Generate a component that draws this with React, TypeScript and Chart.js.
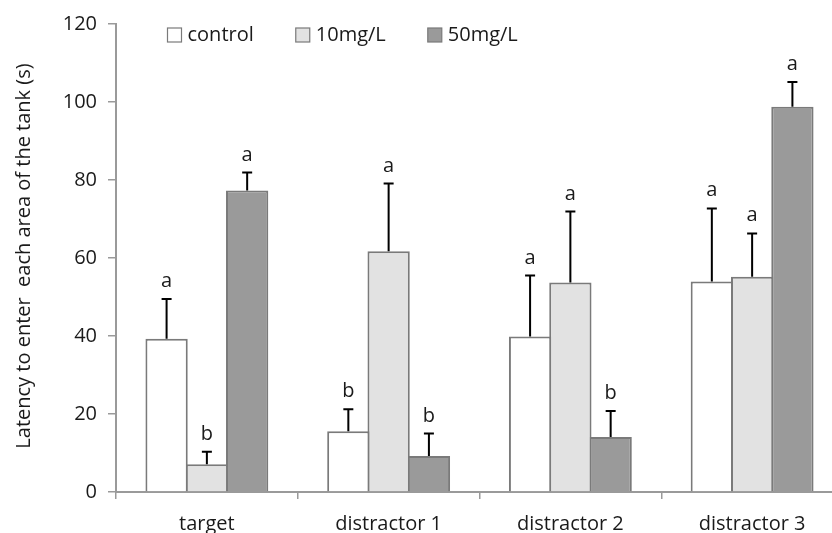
import React, { useEffect, useRef } from "react";
import { Chart, registerables } from "chart.js";

Chart.register(...registerables);

// ---- data ----
const categories = ["target", "distractor 1", "distractor 2", "distractor 3"];
const seriesNames = ["control", "10mg/L", "50mg/L"];
const controlMeans = [39.3, 15.6, 39.9, 54.0];
const controlErr = [10.2, 5.6, 15.6, 18.7];
const mg10Means = [7.1, 61.7, 53.7, 55.2];
const mg10Err = [3.2, 17.4, 18.2, 11.1];
const mg50Means = [77.3, 9.2, 14.1, 98.8];
const mg50Err = [4.6, 5.8, 6.7, 6.3];
const controlLetters = ["a", "b", "a", "a"];
const mg10Letters = ["b", "a", "a", "a"];
const mg50Letters = ["a", "b", "b", "a"];
const yMin = 0;
const yMax = 120;
const yStep = 20;
const yTitle = "Latency to enter  each area of the tank (s)";

const FONT = "'Open Sans', 'DejaVu Sans', sans-serif";
const TEXT = "#1a1a1a";
const AXIS = "#9a9a9a";
const BORDER = "#7a7a7a";
const fills = ["#ffffff", "#e2e2e2", "#9a9a9a"];

const errors = [controlErr, mg10Err, mg50Err];
const letters = [controlLetters, mg10Letters, mg50Letters];

const errorBarPlugin = {
  id: "errorBars",
  afterDatasetsDraw(chart: any) {
    const ctx = chart.ctx;
    const y = chart.scales.y;
    ctx.save();
    chart.data.datasets.forEach((ds: any, i: number) => {
      const meta = chart.getDatasetMeta(i);
      meta.data.forEach((el: any, j: number) => {
        const v = ds.data[j];
        const top = y.getPixelForValue(v + errors[i][j]);
        ctx.strokeStyle = "#000";
        ctx.lineWidth = 2;
        ctx.beginPath();
        ctx.moveTo(el.x, el.y);
        ctx.lineTo(el.x, top);
        ctx.moveTo(el.x - 5, top);
        ctx.lineTo(el.x + 5, top);
        ctx.stroke();
        ctx.fillStyle = TEXT;
        ctx.font = `20px ${FONT}`;
        ctx.textAlign = "center";
        ctx.textBaseline = "alphabetic";
        ctx.fillText(letters[i][j], el.x, top - 12);
      });
    });
    ctx.restore();
  },
};

const legendPlugin = {
  id: "customLegend",
  afterDraw(chart: any) {
    const ctx = chart.ctx;
    ctx.save();
    ctx.font = `20px ${FONT}`;
    ctx.textBaseline = "middle";
    ctx.textAlign = "left";
    let x = 167.5;
    const cy = 35;
    chart.data.datasets.forEach((ds: any) => {
      ctx.fillStyle = ds.backgroundColor;
      ctx.fillRect(x, cy - 7, 14, 14);
      ctx.strokeStyle = BORDER;
      ctx.lineWidth = 1.2;
      ctx.strokeRect(x, cy - 7, 14, 14);
      ctx.fillStyle = TEXT;
      ctx.fillText(ds.label, x + 20, cy);
      const w = ctx.measureText(ds.label).width;
      x += 20 + w + 42;
    });
    ctx.restore();
  },
};

const yTitlePlugin = {
  id: "yTitle",
  afterDraw(chart: any) {
    const ctx = chart.ctx;
    const y = chart.scales.y;
    ctx.save();
    ctx.translate(24, (y.top + y.bottom) / 2 - 2);
    ctx.rotate(-Math.PI / 2);
    ctx.font = `20px ${FONT}`;
    ctx.fillStyle = TEXT;
    ctx.textAlign = "center";
    ctx.textBaseline = "middle";
    ctx.fillText(yTitle, 0, 0);
    ctx.restore();
  },
};

export default function App() {
  const ref = useRef<HTMLCanvasElement | null>(null);

  useEffect(() => {
    if (!ref.current) return;
    const means = [controlMeans, mg10Means, mg50Means];
    const chart = new Chart(ref.current, {
      type: "bar",
      data: {
        labels: categories,
        datasets: seriesNames.map((name, i) => ({
          label: name,
          data: means[i],
          backgroundColor: fills[i],
          borderColor: BORDER,
          borderWidth: 2,
          barPercentage: 1.05,
          categoryPercentage: 0.665,
        })),
      },
      options: {
        responsive: false,
        animation: false,
        devicePixelRatio: 1,
        layout: { padding: { top: 24, right: 17, left: 0, bottom: 0 } },
        plugins: {
          legend: { display: false },
          tooltip: { enabled: false },
        },
        scales: {
          x: {
            grid: {
              display: true,
              drawOnChartArea: false,
              drawTicks: true,
              tickLength: 7,
              color: AXIS,
              lineWidth: 1.5,
            },
            border: { display: true, color: AXIS, width: 2 },
            ticks: {
              color: TEXT,
              font: { family: FONT, size: 20 },
              padding: 13,
              maxRotation: 0,
            },
            afterFit(scale: any) {
              scale.height = 41;
            },
          },
          y: {
            min: yMin,
            max: yMax,
            grid: {
              display: true,
              drawOnChartArea: false,
              drawTicks: true,
              tickLength: 8,
              color: AXIS,
              lineWidth: 1.5,
            },
            border: { display: true, color: AXIS, width: 2 },
            ticks: {
              stepSize: yStep,
              color: TEXT,
              font: { family: FONT, size: 20 },
              padding: 11,
            },
            title: { display: false },
            afterFit(scale: any) {
              scale.width = 116;
            },
          },
        },
      },
      plugins: [errorBarPlugin, legendPlugin, yTitlePlugin],
    });
    return () => chart.destroy();
  }, []);

  return (
    <div
      style={{
        position: "fixed",
        left: 0,
        top: 0,
        width: 832,
        height: 533,
        overflow: "hidden",
        background: "#fff",
      }}
    >
      <canvas ref={ref} width={860} height={533} style={{ display: "block" }} />
    </div>
  );
}
